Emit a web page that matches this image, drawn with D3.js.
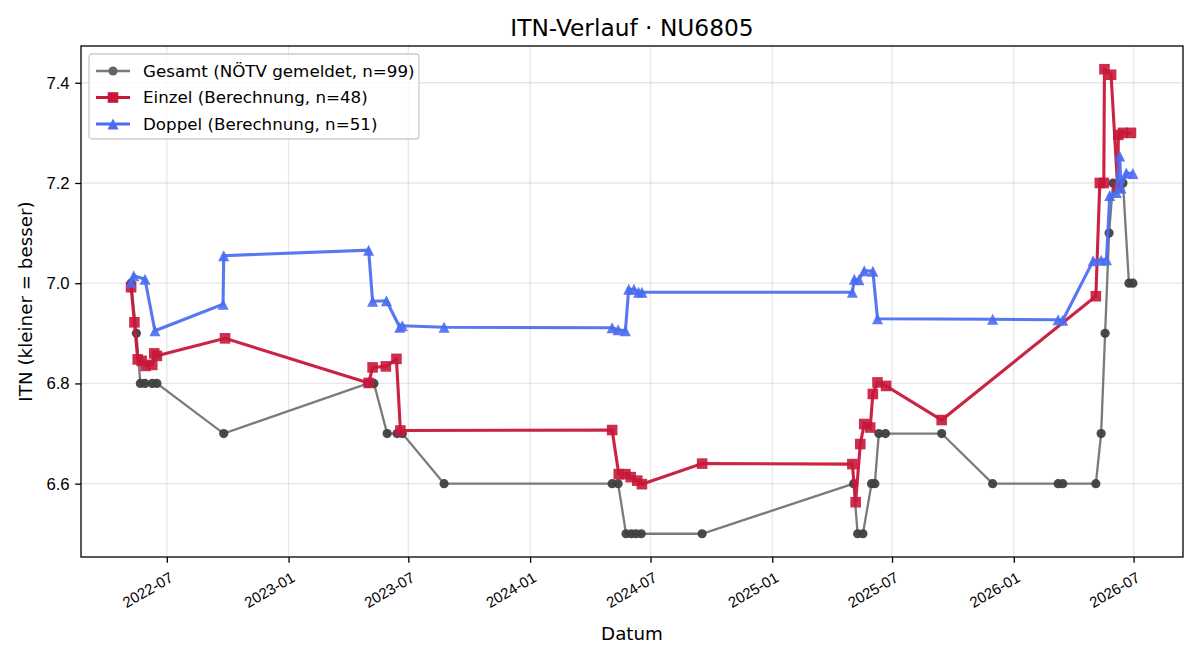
<!DOCTYPE html>
<html>
<head>
<meta charset="utf-8">
<script src="https://cdn.jsdelivr.net/npm/d3@7"></script>
<style>
  body { margin: 0; background: #fff; }
  svg { font-family: "DejaVu Sans", sans-serif; }
</style>
</head>
<body>
<script>
// values
var gesamtDates = ["2022-05-08","2022-05-16","2022-05-22","2022-05-29","2022-06-09","2022-06-16","2022-09-25",
  "2023-05-01","2023-05-10","2023-05-30","2023-06-14","2023-06-22","2023-08-24",
  "2024-05-04","2024-05-13","2024-05-25","2024-06-02","2024-06-09","2024-06-17","2024-09-17",
  "2025-05-04","2025-05-10","2025-05-18","2025-05-31","2025-06-05","2025-06-11","2025-06-21","2025-09-14","2025-11-30",
  "2026-03-09","2026-03-16","2026-05-05","2026-05-13","2026-05-19","2026-05-25","2026-05-31","2026-06-15","2026-06-24","2026-06-30"];
var gesamtValues = [7.0,6.9,6.8,6.8,6.8,6.8,6.7,
  6.8,6.8,6.7,6.7,6.7,6.6,
  6.6,6.6,6.5,6.5,6.5,6.5,6.5,
  6.6,6.5,6.5,6.6,6.6,6.7,6.7,6.7,6.6,
  6.6,6.6,6.6,6.7,6.9,7.1,7.2,7.2,7.0,7.0];

var einzelDates = ["2022-05-08","2022-05-13","2022-05-18","2022-05-24","2022-05-30","2022-06-09","2022-06-12","2022-06-16","2022-09-27",
  "2023-05-02","2023-05-08","2023-05-28","2023-06-13","2023-06-19",
  "2024-05-04","2024-05-14","2024-05-24","2024-06-01","2024-06-11","2024-06-18","2024-09-17",
  "2025-05-02","2025-05-07","2025-05-14","2025-05-20","2025-05-29","2025-06-02","2025-06-09","2025-06-22","2025-09-14",
  "2026-05-05","2026-05-11","2026-05-17","2026-05-18","2026-05-28","2026-06-07","2026-06-08","2026-06-15","2026-06-27"];
var einzelValues = [6.992,6.922,6.848,6.845,6.835,6.837,6.860,6.855,6.890,
  6.801,6.832,6.834,6.849,6.706,
  6.707,6.619,6.619,6.613,6.606,6.599,6.640,
  6.639,6.563,6.679,6.719,6.712,6.779,6.802,6.795,6.727,
  6.974,7.200,7.200,7.427,7.416,7.190,7.296,7.300,7.300];

var doppelDates = ["2022-05-08","2022-05-12","2022-05-29","2022-06-13","2022-09-24","2022-09-25",
  "2023-05-02","2023-05-08","2023-05-29","2023-06-18","2023-06-22","2023-08-24",
  "2024-05-04","2024-05-13","2024-05-24","2024-05-29","2024-06-06","2024-06-13","2024-06-18",
  "2025-05-02","2025-05-05","2025-05-12","2025-05-20","2025-06-02","2025-06-09","2025-11-30",
  "2026-03-09","2026-03-16","2026-05-01","2026-05-13","2026-05-21","2026-05-26","2026-06-05","2026-06-10","2026-06-12","2026-06-20","2026-06-30"];
var doppelValues = [7.002,7.015,7.008,6.905,6.958,7.055,
  7.066,6.964,6.965,6.912,6.915,6.912,
  6.911,6.907,6.905,6.988,6.988,6.982,6.982,
  6.982,7.008,7.007,7.025,7.024,6.929,6.928,
  6.927,6.926,7.045,7.046,7.047,7.175,7.181,7.254,7.190,7.220,7.219];

var seriesNames = ["Gesamt (NÖTV gemeldet, n=99)", "Einzel (Berechnung, n=48)", "Doppel (Berechnung, n=51)"];
var yTicks = [6.6, 6.8, 7.0, 7.2, 7.4];

var W = 1200, H = 660;
var margin = {left: 81, right: 1183, top: 46, bottom: 557};
var fs = "16.7px";
var parse = d3.timeParse("%Y-%m-%d");

function zip(dates, values) {
  return dates.map(function(d, i) { return {date: parse(d), value: values[i]}; });
}
var gesamt = zip(gesamtDates, gesamtValues);
var einzel = zip(einzelDates, einzelValues);
var doppel = zip(doppelDates, doppelValues);
var all = gesamt.concat(einzel, doppel);

var xExt = d3.extent(all, function(d) { return +d.date; });
var xPad = (xExt[1] - xExt[0]) * 0.05;
var yExt = d3.extent(all, function(d) { return d.value; });
var yPad = (yExt[1] - yExt[0]) * 0.05;

var x = d3.scaleTime().domain([new Date(xExt[0] - xPad), new Date(xExt[1] + xPad)]).range([margin.left, margin.right]);
var y = d3.scaleLinear().domain([yExt[0] - yPad, yExt[1] + yPad]).range([margin.bottom, margin.top]);

var svg = d3.select("body").append("svg").attr("width", W).attr("height", H);
svg.append("rect").attr("width", W).attr("height", H).attr("fill", "#fff");

var xTicks = d3.timeMonth.every(6).range(new Date(2022, 6, 1), new Date(2026, 7, 1));

// grid
var grid = svg.append("g").attr("stroke", "#b0b0b0").attr("stroke-opacity", 0.3).attr("stroke-width", 1.3);
grid.selectAll("line.gx").data(xTicks).enter().append("line")
  .attr("x1", function(d) { return x(d); }).attr("x2", function(d) { return x(d); })
  .attr("y1", margin.top).attr("y2", margin.bottom);
grid.selectAll("line.gy").data(yTicks).enter().append("line")
  .attr("y1", function(d) { return y(d); }).attr("y2", function(d) { return y(d); })
  .attr("x1", margin.left).attr("x2", margin.right);

// axes
var xAxis = svg.append("g").attr("transform", "translate(0," + margin.bottom + ")")
  .call(d3.axisBottom(x).tickValues(xTicks).tickSize(5.8).tickFormat(d3.timeFormat("%Y-%m")));
xAxis.select(".domain").remove();
xAxis.selectAll("text")
  .attr("font-size", "15px").attr("fill", "#000")
  .attr("text-anchor", "end").attr("y", 0).attr("dy", "0.93em")
  .attr("transform", "translate(0,11.6) rotate(-30)");

var yAxis = svg.append("g").attr("transform", "translate(" + margin.left + ",0)")
  .call(d3.axisLeft(y).tickValues(yTicks).tickSize(5.8).tickFormat(d3.format(".1f")));
yAxis.select(".domain").remove();
yAxis.selectAll("text").attr("font-size", fs).attr("fill", "#000").attr("x", -11.4);
svg.selectAll(".tick line").attr("stroke", "#000").attr("stroke-width", 1.3);

svg.append("rect").attr("x", margin.left).attr("y", margin.top)
  .attr("width", margin.right - margin.left).attr("height", margin.bottom - margin.top)
  .attr("fill", "none").attr("stroke", "#000").attr("stroke-width", 1.3);

var line = d3.line().x(function(d) { return x(d.date); }).y(function(d) { return y(d.value); });

// marker shapes (matplotlib style: triangle as wide as it is tall)
var triPath = function(s) { var h = s / 2; return "M0," + (-h) + "L" + h + "," + h + "L" + (-h) + "," + h + "Z"; };

// Gesamt
svg.append("path").datum(gesamt).attr("d", line)
  .attr("fill", "none").attr("stroke", "#7a7a7a").attr("stroke-width", 2.3);
svg.append("g").selectAll("circle").data(gesamt).enter().append("circle")
  .attr("cx", function(d) { return x(d.date); }).attr("cy", function(d) { return y(d.value); })
  .attr("r", 4.6).attr("fill", "#404040").attr("fill-opacity", 0.95);

// Einzel
var red = "#c8173a";
svg.append("path").datum(einzel).attr("d", line)
  .attr("fill", "none").attr("stroke", red).attr("stroke-opacity", 0.95).attr("stroke-width", 3.1);
svg.append("g").selectAll("rect").data(einzel).enter().append("rect")
  .attr("x", function(d) { return x(d.date) - 5.3; }).attr("y", function(d) { return y(d.value) - 5.3; })
  .attr("width", 10.6).attr("height", 10.6).attr("fill", red).attr("fill-opacity", 0.9);

// Doppel
var blue = "#4a6cf0";
svg.append("path").datum(doppel).attr("d", line)
  .attr("fill", "none").attr("stroke", blue).attr("stroke-opacity", 0.92).attr("stroke-width", 3.1);
svg.append("g").selectAll("path").data(doppel).enter().append("path")
  .attr("d", triPath(11))
  .attr("transform", function(d) { return "translate(" + x(d.date) + "," + y(d.value) + ")"; })
  .attr("fill", blue).attr("fill-opacity", 0.9);

// title and labels
svg.append("text").attr("x", (margin.left + margin.right) / 2).attr("y", 36)
  .attr("text-anchor", "middle").attr("font-size", "23.3px").text("ITN-Verlauf · NU6805");
svg.append("text").attr("x", (margin.left + margin.right) / 2).attr("y", 640)
  .attr("text-anchor", "middle").attr("font-size", "18.3px").text("Datum");
svg.append("text").attr("transform", "translate(32," + ((margin.top + margin.bottom) / 2) + ") rotate(-90)")
  .attr("text-anchor", "middle").attr("font-size", "18.3px").text("ITN  (kleiner = besser)");

// legend
var lg = svg.append("g").attr("transform", "translate(89,54)");
lg.append("rect").attr("width", 330).attr("height", 85).attr("rx", 3)
  .attr("fill", "#fff").attr("fill-opacity", 0.8).attr("stroke", "#ccc").attr("stroke-width", 1.3);
var legendColors = ["#7a7a7a", red, blue];
var legendWidths = [2.3, 3.1, 3.1];
seriesNames.forEach(function(name, i) {
  var cy = 17 + i * 26.5;
  lg.append("line").attr("x1", 7).attr("x2", 41).attr("y1", cy).attr("y2", cy)
    .attr("stroke", legendColors[i]).attr("stroke-width", legendWidths[i]);
  if (i === 0) {
    lg.append("circle").attr("cx", 24).attr("cy", cy).attr("r", 4.6).attr("fill", "#666");
  } else if (i === 1) {
    lg.append("rect").attr("x", 18.7).attr("y", cy - 5.3).attr("width", 10.6).attr("height", 10.6).attr("fill", red);
  } else {
    lg.append("path").attr("d", triPath(11)).attr("transform", "translate(24," + cy + ")").attr("fill", blue);
  }
  lg.append("text").attr("x", 54).attr("y", cy).attr("dy", "0.35em")
    .attr("font-size", fs).text(name);
});
</script>
</body>
</html>
